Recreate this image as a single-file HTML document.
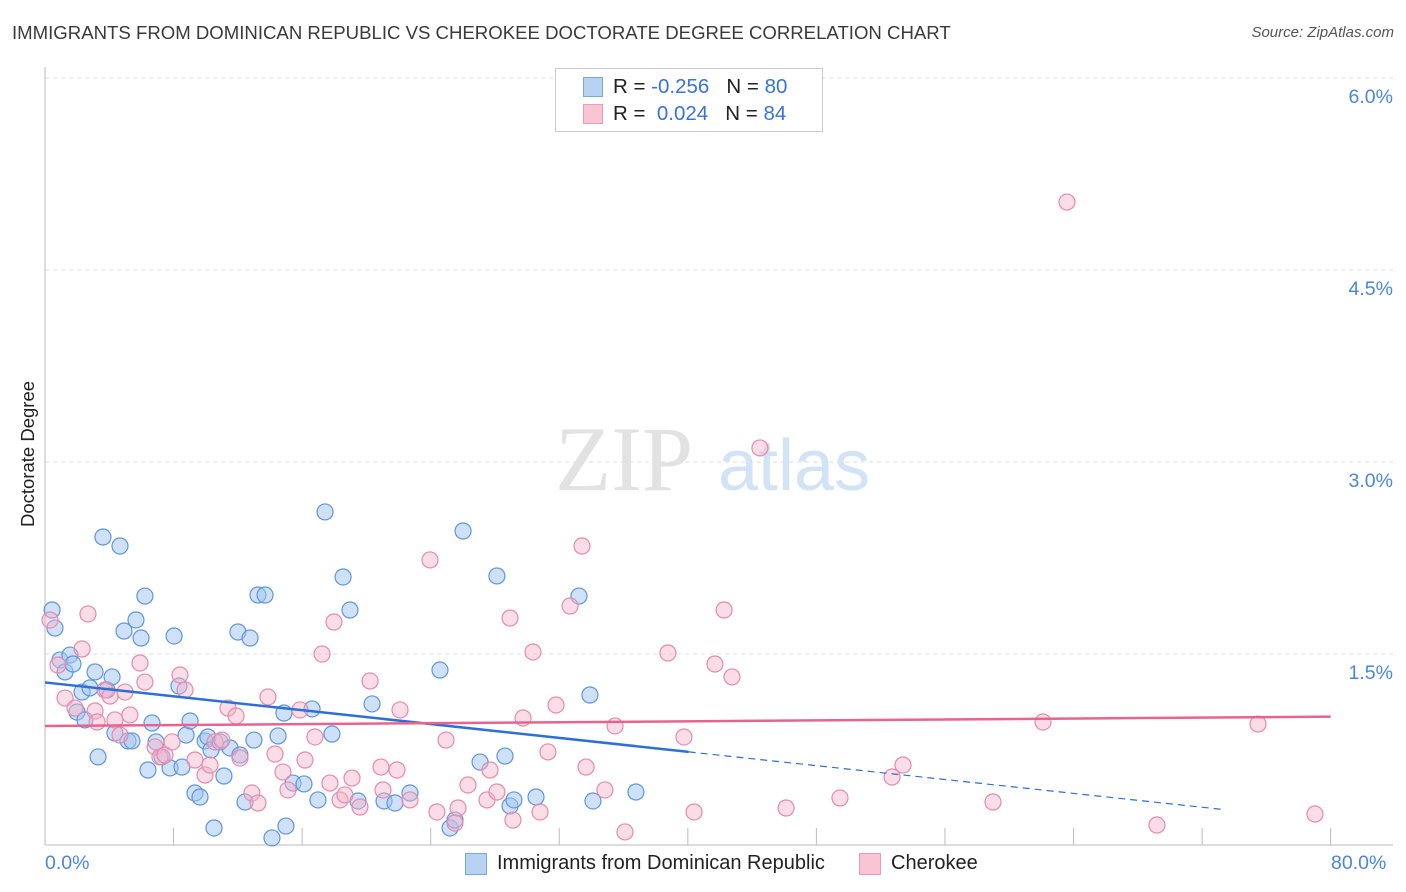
<!DOCTYPE html>
<html><head><meta charset="utf-8">
<style>
body{margin:0;background:#fff;font-family:"Liberation Sans",sans-serif;}
#wrap{position:relative;width:1406px;height:892px;overflow:hidden}
.t{position:absolute;white-space:nowrap}
</style></head>
<body>
<div id="wrap">
<div class="t" style="left:12px;top:22px;font-size:18.6px;color:#3a3a3a">IMMIGRANTS FROM DOMINICAN REPUBLIC VS CHEROKEE DOCTORATE DEGREE CORRELATION CHART</div>
<div class="t" style="right:12px;top:24px;font-size:15px;color:#555;font-style:italic">Source: ZipAtlas.com</div>
<div class="t" style="left:-42px;top:446px;font-size:18.5px;color:#222;transform:rotate(-90deg);width:140px;text-align:center">Doctorate Degree</div>
<svg id="svg" width="1406" height="892" style="position:absolute;left:0;top:0"></svg>
<div style="position:absolute;left:555px;top:68px;width:266px;height:62px;border:1px solid #ccc;background:#fff">
 <div style="position:absolute;left:27px;top:8px;width:18px;height:18px;background:#b8d2f4;border:1px solid #7aa6e0"></div>
 <div style="position:absolute;left:27px;top:35px;width:18px;height:18px;background:#f9c4d4;border:1px solid #ec9ab6"></div>
 <div class="t" style="left:57px;top:6px;font-size:20.5px;color:#222">R = <span style="color:#3874d8">-0.256</span>&nbsp;&nbsp;&nbsp;N = <span style="color:#3874d8">80</span></div>
 <div class="t" style="left:57px;top:33px;font-size:20.5px;color:#222">R = &nbsp;<span style="color:#3874d8">0.024</span>&nbsp;&nbsp;&nbsp;N = <span style="color:#3874d8">84</span></div>
</div>
<div class="t" style="left:45px;top:852px;font-size:19.5px;color:#4a86e0">0.0%</div>
<div class="t" style="left:1331px;top:852px;font-size:19.5px;color:#4a86e0">80.0%</div>
<div style="position:absolute;left:465px;top:853px;width:20px;height:20px;background:#b8d2f4;border:1px solid #7aa6e0"></div>
<div class="t" style="left:497px;top:852px;font-size:20px;color:#222">Immigrants from Dominican Republic</div>
<div style="position:absolute;left:859px;top:853px;width:20px;height:20px;background:#f9c4d4;border:1px solid #ec9ab6"></div>
<div class="t" style="left:891px;top:852px;font-size:20px;color:#222">Cherokee</div>
</div>
<script>
const yTicks=[1.5,3.0,4.5,6.0];
const xTicks=[7.63,15.26,22.89,30.52,38.15,45.78,53.41,61.04,68.67,76.3];
const bluePx=[[52,610],[55,628],[60,660],[65,672],[70,655],[73,664],[77,712],[85,720],[82,692],[90,688],[95,672],[98,757],[103,537],[107,690],[112,677],[115,733],[120,546],[124,631],[128,741],[132,741],[136,620],[141,638],[145,596],[148,770],[152,723],[156,742],[162,757],[170,768],[174,636],[179,686],[182,767],[186,735],[190,721],[195,793],[200,797],[205,741],[208,737],[211,750],[214,828],[220,742],[224,776],[230,748],[238,632],[240,755],[245,802],[250,638],[254,740],[258,595],[265,595],[272,838],[278,736],[284,713],[286,826],[293,783],[304,784],[312,709],[318,800],[325,512],[332,734],[343,577],[350,610],[358,801],[372,704],[384,801],[395,803],[410,793],[440,670],[450,828],[455,820],[463,531],[480,762],[497,576],[505,756],[510,806],[514,800],[536,797],[579,596],[590,695],[593,801],[636,792]];
const pinkPx=[[50,620],[58,665],[65,698],[75,708],[82,649],[88,614],[95,711],[97,722],[105,690],[110,696],[115,720],[120,735],[125,692],[130,715],[140,663],[145,682],[155,747],[160,757],[165,755],[172,742],[180,675],[185,690],[195,760],[205,775],[210,765],[215,742],[222,740],[228,708],[236,716],[240,758],[252,793],[258,803],[268,697],[275,754],[283,772],[288,790],[300,710],[305,760],[315,737],[322,654],[330,783],[334,622],[340,800],[345,795],[352,778],[360,807],[370,681],[381,767],[383,790],[397,770],[400,710],[410,800],[430,560],[437,812],[446,740],[455,823],[458,808],[468,785],[487,800],[490,770],[497,792],[510,618],[513,820],[523,718],[533,652],[540,812],[548,752],[556,705],[570,606],[582,546],[586,767],[605,790],[615,726],[625,832],[668,653],[684,737],[694,812],[715,664],[724,610],[732,677],[760,448],[786,808],[840,798],[892,777],[903,765],[993,802],[1043,722],[1067,202],[1157,825],[1258,724],[1315,814]];
const blueX=bluePx.map(p=>+((p[0]-45)/16.85).toFixed(2)), blueY=bluePx.map(p=>+((845-p[1])/128).toFixed(3));
const pinkX=pinkPx.map(p=>+((p[0]-45)/16.85).toFixed(2)), pinkY=pinkPx.map(p=>+((845-p[1])/128).toFixed(3));
const blueTrend=[1.27,-0.0142];
const pinkTrend=[0.93,0.00095];
function X(v){return 45+v*16.85}
function Y(v){return 845-v*128}
const svg=document.getElementById('svg');const NS='http://www.w3.org/2000/svg';
function mk(t,a,p){const e=document.createElementNS(NS,t);for(const k in a)e.setAttribute(k,a[k]);(p||svg).appendChild(e);return e}
mk('line',{x1:45,y1:67,x2:45,y2:845,stroke:'#bbb'});
mk('line',{x1:45,y1:845,x2:1393,y2:845,stroke:'#bbb'});
yTicks.forEach(v=>{const g=mk('line',{x1:45,y1:Y(v)+1,x2:1393,y2:Y(v)+1,stroke:'#ddd','stroke-dasharray':'4,4'});

const t=mk('text',{x:1393,y:Y(v)+26,'text-anchor':'end','font-size':19.5,fill:'#4a86e0','font-family':'Liberation Sans'});t.textContent=v.toFixed(1)+'%';
});
xTicks.forEach(v=>{const l=mk('line',{x1:X(v),y1:828,x2:X(v),y2:845,stroke:'#bbb'});});
const wm=mk('text',{x:555,y:490,'font-size':92,fill:'#e2e2e2','font-family':'Liberation Serif'});wm.textContent='ZIP';

const wm2=mk('text',{x:718,y:490,'font-size':72,fill:'#d3e3f6','font-family':'Liberation Sans'});wm2.textContent='atlas';

blueX.forEach((x,i)=>{const c=mk('circle',{cx:X(x),cy:Y(blueY[i]),r:8,fill:'rgba(160,195,240,0.5)',stroke:'#5f95dc','stroke-width':1.2});
});
pinkX.forEach((x,i)=>{const c=mk('circle',{cx:X(x),cy:Y(pinkY[i]),r:8,fill:'rgba(245,180,200,0.45)',stroke:'#e78aab','stroke-width':1.2});
});
const bl=mk('line',{x1:X(0),y1:Y(blueTrend[0]),x2:X(38.2),y2:Y(blueTrend[0]+blueTrend[1]*38.2),stroke:'#2d6fd8','stroke-width':2.5});

const bd=mk('line',{x1:X(38.2),y1:Y(blueTrend[0]+blueTrend[1]*38.2),x2:X(70),y2:Y(blueTrend[0]+blueTrend[1]*70),stroke:'#2d6fd8','stroke-width':1.2,'stroke-dasharray':'7,5'});

const pl=mk('line',{x1:X(0),y1:Y(pinkTrend[0]),x2:X(76.3),y2:Y(pinkTrend[0]+pinkTrend[1]*76.3),stroke:'#e8638f','stroke-width':2.5});

</script>
</body></html>
